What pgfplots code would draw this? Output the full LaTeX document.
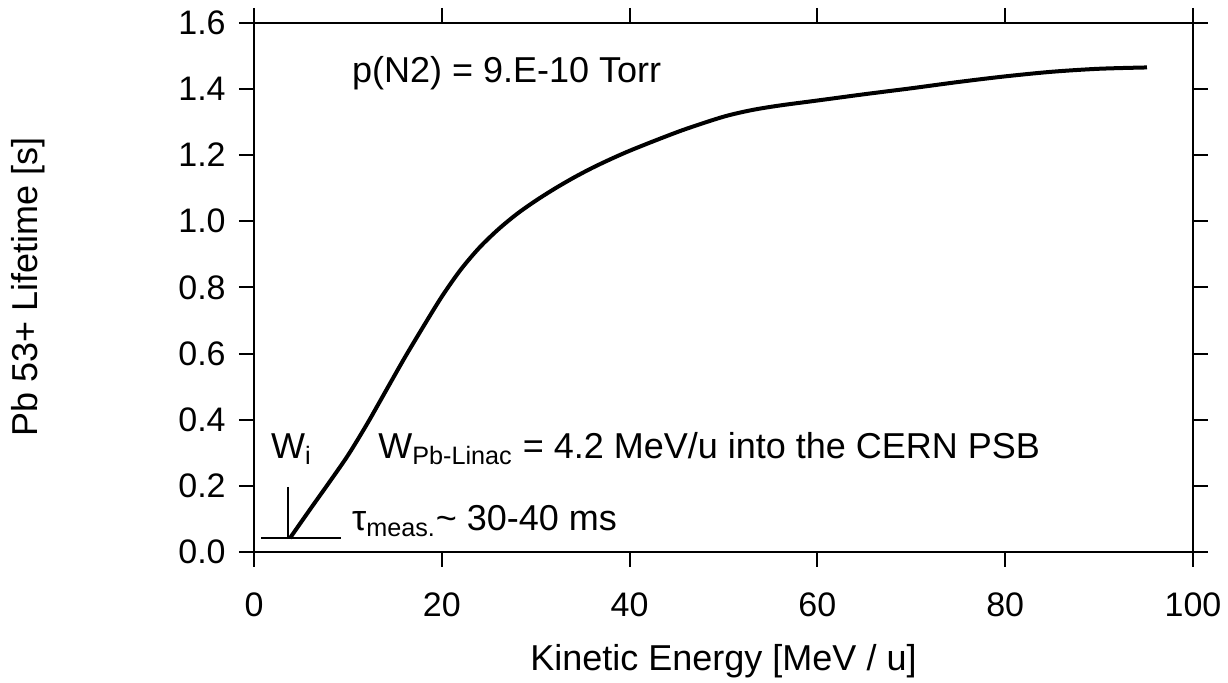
\documentclass[border=0pt]{standalone}
\usepackage{fontspec}
\setmainfont{Liberation Sans}
\usepackage{pgfplots}
\pgfplotsset{compat=1.18}
\begin{document}
\begin{tikzpicture}
\path[use as bounding box] (-127pt,-65.5pt) rectangle (487pt,276pt);
\begin{axis}[
  scale only axis, width=469.5pt, height=264.6pt,
  xmin=0, xmax=100, ymin=0, ymax=1.6,
  xtick={0,20,...,100}, ytick={0,0.2,0.4,0.6,0.8,1.0,1.2,1.4,1.6},
  tick align=outside, major tick length=7.5pt,
  axis line style={line width=1pt},
  every tick/.style={black, line width=1pt},
  font=\fontsize{17}{20}\selectfont,
  /pgf/number format/assume math mode=true,
  yticklabel style={/pgf/number format/fixed, /pgf/number format/fixed zerofill, /pgf/number format/precision=1},
  xticklabel style={anchor=center, yshift=-19pt},
  yticklabel style={anchor=center, xshift=-18.5pt},
  xlabel={Kinetic Energy [MeV / u]},
  ylabel={Pb 53+ Lifetime [s]},
  label style={font=\fontsize{18}{21}\selectfont},
  xlabel style={at={(axis description cs:0.5,0)}, anchor=center, yshift=-54.5pt},
  ylabel style={at={(axis description cs:0,0.5)}, anchor=center, yshift=113pt},
  clip=false,
]
\addplot[black, line width=2pt, smooth, tension=0.5] coordinates {
(3.83,0.042) (6,0.13) (8,0.21) (10,0.292) (12,0.385) (14,0.485) (16,0.585)
(18,0.68) (20,0.772) (22,0.853) (24,0.92) (26,0.975) (28,1.022) (30,1.062)
(32,1.098) (34,1.131) (36,1.161) (38,1.188) (40,1.213) (43,1.247) (46,1.279)
(50,1.316) (53,1.336) (56,1.350) (60,1.365) (65,1.384) (70,1.402) (75,1.421)
(80,1.438) (85,1.452) (90,1.461) (95.1,1.465)};
\addplot[black, line width=0.7pt] coordinates {(3.62,0.197) (3.62,0.042)};
\addplot[black, line width=0.7pt] coordinates {(0.75,0.042) (9.27,0.042)};
\begin{scope}[every node/.style={font=\fontsize{18}{21}\selectfont, inner sep=0pt, anchor=base west}]
\node at (axis cs:10.4,1.419) {p(N2) = 9.E-10 Torr};
\node at (axis cs:1.78,0.284) {W\textsubscript{i}};
\node at (axis cs:13.2,0.284) {W\textsubscript{Pb-Linac} = 4.2 MeV/u into the CERN PSB};
\node at (axis cs:10.4,0.064) {τ\textsubscript{meas.}\textasciitilde{} 30-40 ms};
\end{scope}
\end{axis}
\end{tikzpicture}
\end{document}
